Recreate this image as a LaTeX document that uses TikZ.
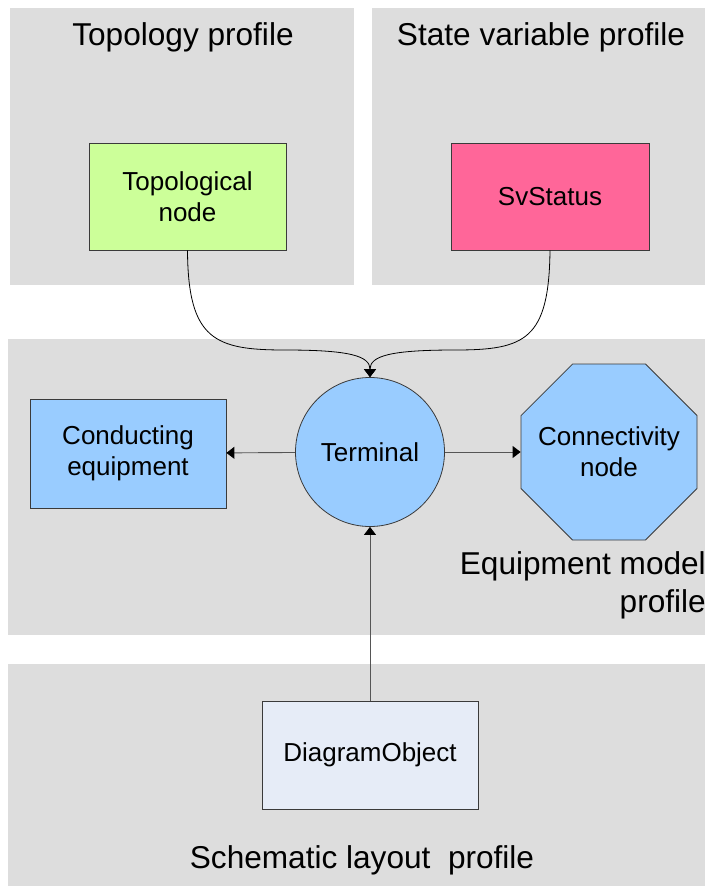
\documentclass[tikz,border=0pt]{standalone}
\usepackage{fontspec}
\setmainfont{Liberation Sans}
\usetikzlibrary{arrows.meta,shapes.geometric}

\definecolor{panelgray}{HTML}{DDDDDD}
\definecolor{topogreen}{HTML}{CCFF99}
\definecolor{svpink}{HTML}{FF6699}
\definecolor{eqblue}{HTML}{99CCFF}
\definecolor{diagpale}{HTML}{E6ECF7}
\definecolor{edgegray}{HTML}{3A3A3A}
\definecolor{linkgray}{HTML}{555555}

\tikzset{
  panel/.style={fill=panelgray, draw=none},
  paneltitle/.style={font=\fontsize{31.6}{38}\selectfont, inner sep=0pt},
  classfont/.style={font=\fontsize{26}{31}\selectfont, align=center},
  classbox/.style={draw=edgegray, line width=0.8pt, inner sep=0pt, classfont},
  link/.style={draw=linkgray, line width=0.9pt,
    -{Triangle[width=12pt,length=8pt,color=black]}},
  curvelink/.style={draw=black, line width=0.8pt,
    -{Triangle[width=12pt,length=8pt]}},
}

\begin{document}
\begin{tikzpicture}[x=1pt,y=-1pt]
  \useasboundingbox (0,0) rectangle (705,886);

  % profile panels
  \fill[panel] (10,8) rectangle (354,285);
  \fill[panel] (372,8) rectangle (705,285);
  \fill[panel] (8,339) rectangle (705,635);
  \fill[panel] (8,664) rectangle (705,886);

  % panel titles
  \node[paneltitle] (ttopo) at (183,37) {Topology profile};
  \node[paneltitle] (tsv) at (541,37) {State variable profile};
  \node[paneltitle, align=right, anchor=east] (teq) at (706,585)
    {Equipment model\\profile};
  \node[paneltitle] (tsch) at (362,860) {Schematic layout\ \ profile};

  % classes
  \node[classbox, fill=topogreen, minimum width=197pt, minimum height=107pt]
    (tn) at (187.5,196.5) {Topological\\node};
  \node[classbox, fill=svpink, minimum width=198pt, minimum height=107pt]
    (sv) at (550,196.5) {SvStatus};
  \node[classbox, fill=eqblue, minimum width=196pt, minimum height=109pt]
    (ce) at (128,453.5) {Conducting\\equipment};
  \node[classbox, fill=eqblue, circle, minimum size=149pt]
    (term) at (370,452) {Terminal};
  \node[classbox, fill=eqblue, regular polygon, regular polygon sides=8,
    minimum size=190.5pt,
    label={[classfont, inner sep=0pt]center:Connectivity\\node}]
    (cn) at (609,452) {};
  \node[classbox, fill=diagpale, minimum width=216pt, minimum height=108pt]
    (dobj) at (370,755) {DiagramObject};

  % joints of the two curved links
  \coordinate (jl) at (285,350);
  \coordinate (jr) at (455,350);

  % associations
  \draw[curvelink] (tn.south) .. controls (188,340) and (215,350) .. (jl)
    .. controls (350,350) and (370,356) .. (term.north);
  \draw[curvelink] (sv.south) .. controls (549,340) and (525,350) .. (jr)
    .. controls (390,350) and (370,356) .. (term.north);
  \draw[link] (term) -- (ce);
  \draw[link] (term) -- (cn);
  \draw[link] (dobj) -- (term);
\end{tikzpicture}
\end{document}
